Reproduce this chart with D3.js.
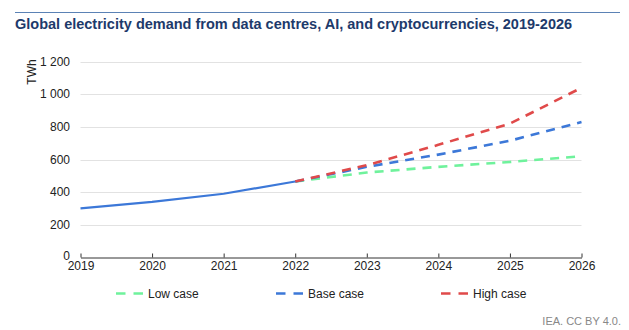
<!DOCTYPE html>
<html><head><meta charset="utf-8">
<script src="https://cdn.jsdelivr.net/npm/d3@7/dist/d3.min.js"></script>
<style>body{margin:0;background:#fff}svg{display:block;font-family:"Liberation Sans",Arial,sans-serif}</style>
</head><body><svg id="c" width="629" height="330"></svg>
<script>
const years = [2019,2020,2021,2022,2023,2024,2025,2026];
const histYears = [2019,2020,2021,2022];
const histValues = [300,340,390,465];
const projYears = [2022,2023,2024,2025,2026];
const lowCase = [465,520,555,585,620];
const baseCase = [465,555,630,715,830];
const highCase = [465,565,690,820,1040];
const yTicks = [0,200,400,600,800,1000,1200];
const seriesNames = ["Low case","Base case","High case"];
const seriesColors = ["#6ff29c","#3c78d8","#e04a4a"];

const svg = d3.select("#c");
const x = d3.scaleLinear().domain([2019,2026]).range([80.5,581.5]);
const y = d3.scaleLinear().domain([0,1200]).range([257.3,61.7]);

svg.append("line").attr("x1",15).attr("x2",620).attr("y1",12.5).attr("y2",12.5)
  .attr("stroke","#5b82b5").attr("stroke-width",1);
svg.append("text").attr("x",15).attr("y",29).attr("font-size",14.5).attr("font-weight","bold")
  .attr("fill","#1d3a6b").text("Global electricity demand from data centres, AI, and cryptocurrencies, 2019-2026");

const fmt = v => d3.format(",")(v).replace(/,/g," ");
svg.append("g").selectAll("line").data(yTicks.filter(d=>d>0)).join("line")
  .attr("x1",x(2019)).attr("x2",x(2026)).attr("y1",d=>Math.round(y(d))+0.5).attr("y2",d=>Math.round(y(d))+0.5)
  .attr("stroke","#e2e2e2").attr("stroke-width",1);
svg.append("g").selectAll("text").data(yTicks).join("text")
  .attr("x",70).attr("y",d=>y(d)+(d===0?2.5:4)).attr("text-anchor","end").attr("font-size",12).attr("fill","#222")
  .text(fmt);
svg.append("text").attr("transform","translate(36,72) rotate(-90)").attr("text-anchor","middle")
  .attr("font-size",12).attr("fill","#222").text("TWh");

const xAxis = svg.append("g").attr("transform",`translate(0,${Math.round(y(0))+0.5})`)
  .call(d3.axisBottom(x).tickValues(years).tickFormat(d3.format("d")).tickSize(5).tickSizeOuter(0));
xAxis.select(".domain").attr("stroke","#333");
xAxis.selectAll(".tick line").attr("stroke","#333").attr("y1",-4).attr("y2",0);
xAxis.selectAll(".tick text").attr("font-size",12).attr("fill","#222").attr("y",4)
  .attr("font-family","'Liberation Sans',Arial,sans-serif");

const line = d3.line().x(d=>x(d[0])).y(d=>y(d[1]));
const projSeries = [lowCase, baseCase, highCase];
projSeries.forEach((vals,i)=>{
  svg.append("path").datum(projYears.map((yr,j)=>[yr,vals[j]])).attr("d",line)
    .attr("fill","none").attr("stroke",seriesColors[i]).attr("stroke-width",2.6)
    .attr("stroke-dasharray","9,7");
});
svg.append("path").datum(histYears.map((yr,j)=>[yr,histValues[j]])).attr("d",line)
  .attr("fill","none").attr("stroke",seriesColors[1]).attr("stroke-width",2.2);

const legX = [116,276,441];
seriesNames.forEach((n,i)=>{
  svg.append("line").attr("x1",legX[i]).attr("x2",legX[i]+27).attr("y1",293.5).attr("y2",293.5)
    .attr("stroke",seriesColors[i]).attr("stroke-width",2.6).attr("stroke-dasharray","9.5,8");
  svg.append("text").attr("x",legX[i]+32).attr("y",297.5).attr("font-size",12).attr("fill","#222").text(n);
});
svg.append("text").attr("x",621).attr("y",324.5).attr("text-anchor","end").attr("font-size",11)
  .attr("fill","#888").text("IEA. CC BY 4.0.");
</script></body></html>
